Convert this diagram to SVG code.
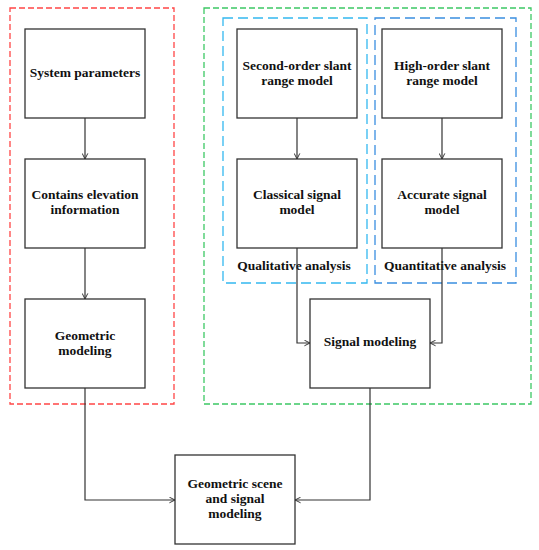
<svg xmlns="http://www.w3.org/2000/svg" width="539" height="550" viewBox="0 0 539 550">
<style>
.node rect{fill:#fff;stroke:#333;stroke-width:1.3}
text{font-family:"Liberation Serif","Times New Roman",serif;font-weight:bold;font-size:13.5px;fill:#111;text-anchor:middle;dominant-baseline:middle}
.grp{fill:none;stroke-width:1.3}
.conn{fill:none;stroke:#333;stroke-width:1.2;marker-end:url(#arr)}
</style>
<defs>
<marker id="arr" viewBox="0 0 10 10" refX="10" refY="5" markerWidth="7" markerHeight="7" markerUnits="userSpaceOnUse" orient="auto">
<path d="M2,1 L10,5 L2,9" fill="none" stroke="#333" stroke-width="1.4"/>
</marker>
</defs>
<rect id="red-group" class="grp" x="10" y="8" width="164" height="396" stroke="#ff4545" stroke-dasharray="6,3"/>
<rect id="green-group" class="grp" x="204" y="8" width="327" height="396" stroke="#3cc864" stroke-dasharray="6,3"/>
<g id="qualitative-group">
<rect class="grp" x="223" y="18" width="144" height="265" stroke="#33b8f0" stroke-dasharray="10,5"/>
<text x="294" y="267">Qualitative analysis</text>
</g>
<g id="quantitative-group">
<rect class="grp" x="375" y="18" width="141" height="265" stroke="#3a8ee0" stroke-dasharray="10,5"/>
<text x="445" y="267">Quantitative analysis</text>
</g>
<g id="connectors">
<path class="conn" d="M85,118 V159"/>
<path class="conn" d="M85,248 V299"/>
<path class="conn" d="M297,118 V159"/>
<path class="conn" d="M442,118 V159"/>
<path class="conn" d="M297,248 V343 H310"/>
<path class="conn" d="M442,248 V343 H430"/>
<path class="conn" d="M85,388 V500 H175"/>
<path class="conn" d="M370,388 V500 H295"/>
</g>
<g id="system-parameters" class="node"><rect x="25" y="29" width="120" height="89"/><text x="85" y="74">System parameters</text></g>
<g id="contains-elevation" class="node"><rect x="25" y="159" width="120" height="89"/><text x="85" y="196">Contains elevation</text><text x="85" y="211">information</text></g>
<g id="geometric-modeling" class="node"><rect x="25" y="299" width="120" height="89"/><text x="85" y="337">Geometric</text><text x="85" y="352">modeling</text></g>
<g id="second-order" class="node"><rect x="237" y="29" width="120" height="89"/><text x="297" y="67">Second-order slant</text><text x="297" y="82">range model</text></g>
<g id="high-order" class="node"><rect x="382" y="29" width="120" height="89"/><text x="442" y="67">High-order slant</text><text x="442" y="82">range model</text></g>
<g id="classical-signal" class="node"><rect x="237" y="159" width="120" height="89"/><text x="297" y="196">Classical signal</text><text x="297" y="211">model</text></g>
<g id="accurate-signal" class="node"><rect x="382" y="159" width="120" height="89"/><text x="442" y="196">Accurate signal</text><text x="442" y="211">model</text></g>
<g id="signal-modeling" class="node"><rect x="310" y="299" width="120" height="89"/><text x="370" y="343">Signal modeling</text></g>
<g id="geometric-scene" class="node"><rect x="175" y="455" width="120" height="89"/><text x="235" y="485">Geometric scene</text><text x="235" y="500">and signal</text><text x="235" y="515">modeling</text></g>
</svg>
